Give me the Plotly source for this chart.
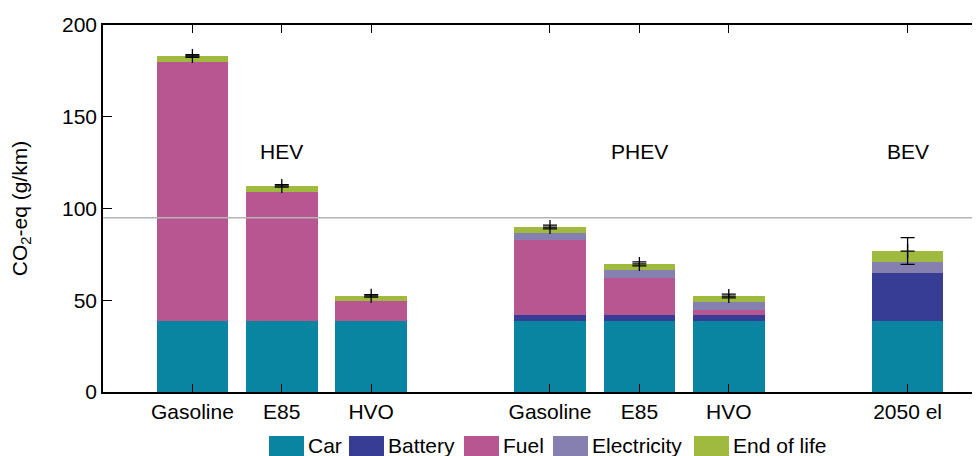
import plotly.graph_objects as go

# ---------------- data ----------------
categories = ["Gasoline", "E85", "HVO", "Gasoline", "E85", "HVO", "2050 el"]
groups = ["HEV", "HEV", "HEV", "PHEV", "PHEV", "PHEV", "BEV"]
group_names = ["HEV", "PHEV", "BEV"]

series_names = ["Car", "Battery", "Fuel", "Electricity", "End of life"]
car = [38.7, 38.7, 38.7, 38.7, 38.7, 38.7, 38.5]
battery = [0, 0, 0, 3.3, 3.3, 3.3, 26.4]
fuel = [141.1, 70.4, 10.9, 40.8, 20.1, 2.7, 0]
electricity = [0, 0, 0, 3.8, 4.4, 4.3, 5.9]
end_of_life = [3.3, 3.2, 2.8, 3.3, 3.3, 3.3, 6.0]
error = [0.7, 0.7, 0.7, 1.0, 1.1, 1.0, 7.3]
target_line = 95
y_ticks = [0, 50, 100, 150, 200]

# ---------------- style ----------------
colors = ["#0a85a1", "#373d94", "#b85691", "#8680b1", "#a0b93f"]
FONT = "Liberation Sans, Arial, Helvetica, sans-serif"
FS = 21

# category positions with a blank slot between groups
positions = [i + 1 + group_names.index(g) for i, g in enumerate(groups)]
series = [car, battery, fuel, electricity, end_of_life]
totals = [sum(v) for v in zip(*series)]

fig = go.Figure()
for name, vals, col in zip(series_names, series, colors):
    fig.add_trace(go.Bar(x=positions, y=vals, name=name, marker_color=col,
                         marker_line_width=0, width=0.8, showlegend=False))

fig.add_trace(go.Scatter(
    x=positions, y=totals, mode="markers", showlegend=False,
    marker=dict(symbol="cross-thin", size=10, line=dict(width=1.3, color="black"), color="black"),
    error_y=dict(type="data", array=error, visible=True, thickness=1.3, width=7, color="black"),
))

# group labels
for g in group_names:
    xs = [p for p, gg in zip(positions, groups) if gg == g]
    fig.add_annotation(x=sum(xs) / len(xs), y=131, text=g, showarrow=False,
                       font=dict(family=FONT, size=FS, color="black"))

# target line
fig.add_shape(type="line", xref="paper", x0=0, x1=1, yref="y", y0=target_line, y1=target_line,
              line=dict(color="#b4b4b4", width=1.5), layer="above")

# page offset (body margin) and plot area, in window pixels
OFF = 8
WIN_W, WIN_H = 980, 456
W, H = WIN_W - OFF, WIN_H - OFF
plot_left, plot_top, plot_bottom = 103, 25, 392
L = plot_left - OFF
T = plot_top - OFF
B = WIN_H - plot_bottom
R = 0
pw, ph = W - L - R, H - T - B

def px_x(px):
    return (px - OFF - L) / pw

def px_y(py):
    return (H - B - (py - OFF)) / ph

# manual legend (wide swatches)
swatch_left = [269, 349, 464, 553, 694]
sw_w, sw_top, sw_bot = 35, 436, 457
for name, col, sx in zip(series_names, colors, swatch_left):
    fig.add_shape(type="rect", xref="paper", yref="paper",
                  x0=px_x(sx), x1=px_x(sx + sw_w), y0=px_y(sw_bot), y1=px_y(sw_top),
                  fillcolor=col, line_width=0)
    fig.add_annotation(xref="paper", yref="paper", x=px_x(sx + sw_w + 2), y=px_y(445),
                       xanchor="left", yanchor="middle", text=name, showarrow=False,
                       font=dict(family=FONT, size=FS, color="black"))

fig.update_layout(
    width=W, height=H,
    margin=dict(l=L, r=R, t=T, b=B, pad=0),
    plot_bgcolor="white", paper_bgcolor="white",
    barmode="stack", bargap=0.2,
    font=dict(family=FONT, size=FS, color="black"),
    xaxis=dict(range=[0, 9.81], tickmode="array", tickvals=positions, ticktext=categories,
               ticks="inside", ticklen=8, tickwidth=1, tickcolor="black",
               showline=True, linecolor="black", linewidth=1.5, mirror="ticks",
               showgrid=False, zeroline=False, tickfont=dict(size=FS)),
    yaxis=dict(range=[0, 200], tickvals=y_ticks, ticks="inside", ticklen=9, tickwidth=1,
               tickcolor="black", showline=True, linecolor="black", linewidth=1.5,
               mirror=False, showgrid=False, zeroline=False, tickfont=dict(size=FS),
               title=dict(text="CO<sub>2</sub>-eq (g/km)", font=dict(size=FS), standoff=30)),
)

fig.write_html("out.html")
